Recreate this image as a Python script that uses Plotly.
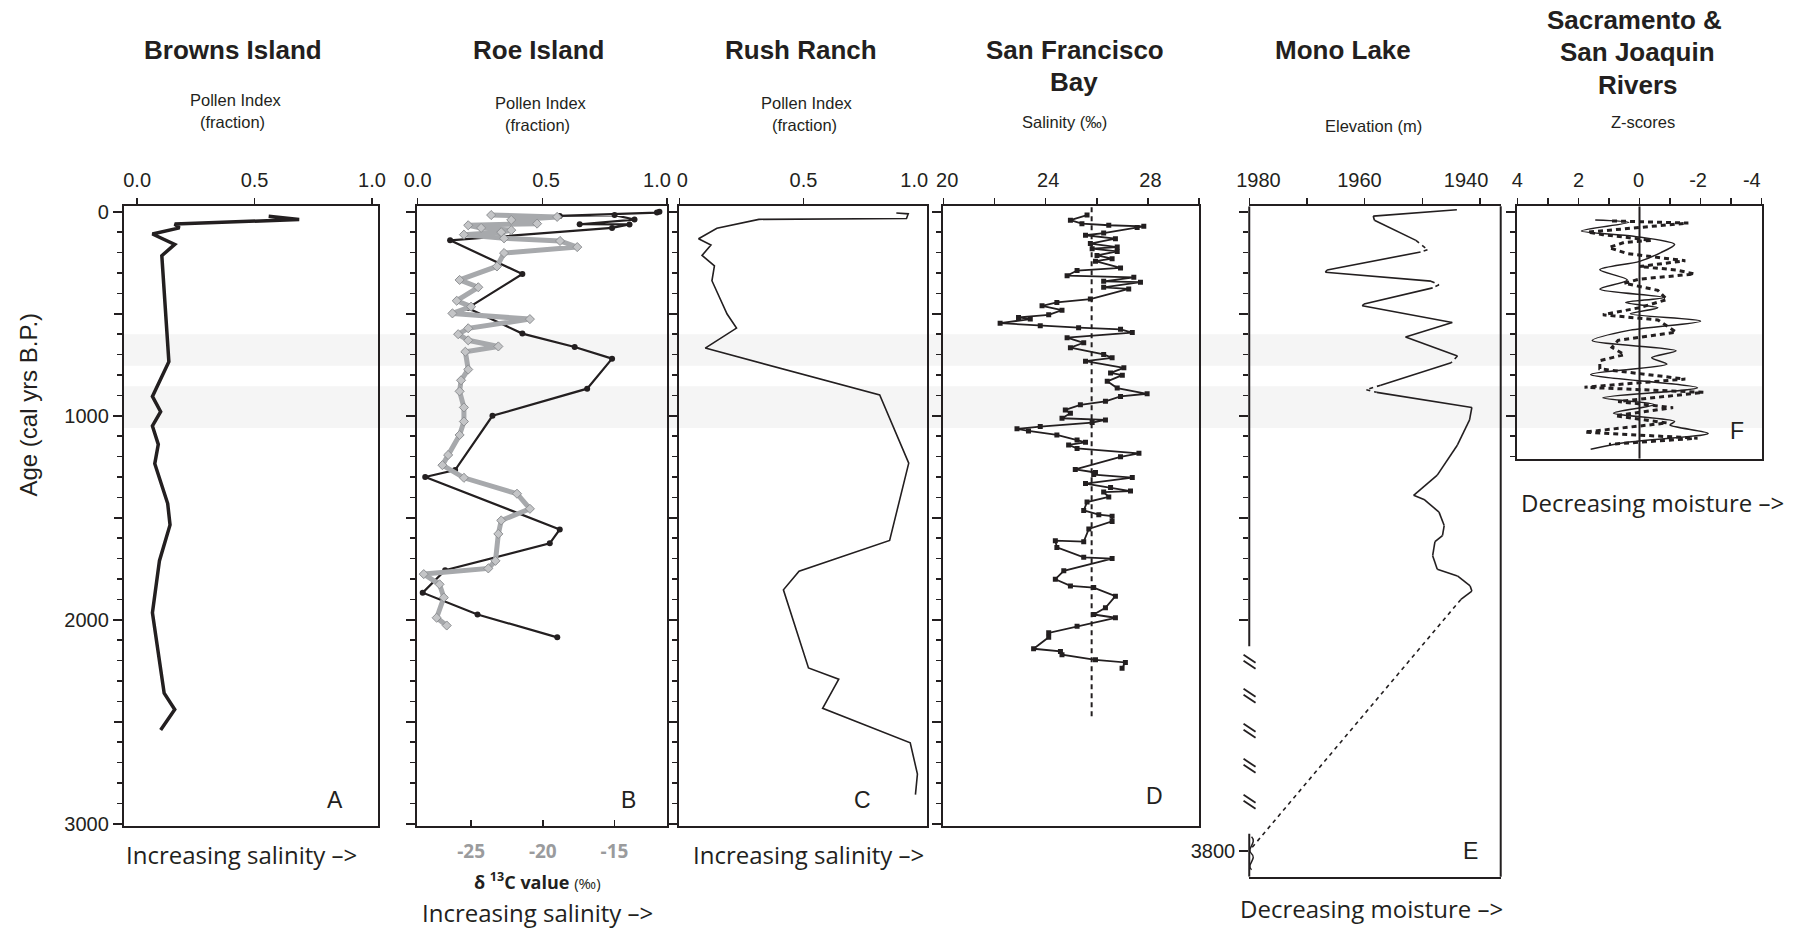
import plotly.graph_objects as go

W, H = 1798, 928
INK = '#231f20'
BAND = '#f5f5f5'
GREY = '#a7a9ac'
SANS = 'Liberation Sans, Arial, sans-serif'
HUM = 'Open Sans, Lato, sans-serif'

# ---------------- data ----------------
browns_age = [22, 38, 60, 79, 109, 160, 215, 735, 905, 980, 1050, 1140, 1235, 1430, 1535, 1710, 1965, 2360, 2440, 2540]
browns_idx = [0.56, 0.69, 0.16, 0.18, 0.065, 0.16, 0.105, 0.135, 0.065, 0.10, 0.065, 0.09, 0.075, 0.13, 0.14, 0.095, 0.065, 0.115, 0.16, 0.10]

roe_pollen_age = [0, 4, 20, 16, 38, 61, 62, 79, 140, 305, 472, 597, 663, 720, 867, 1000, 1266, 1300, 1557, 1625, 1757, 1867, 1974, 2086]
roe_pollen = [0.97, 0.96, 0.57, 0.79, 0.87, 0.65, 0.85, 0.78, 0.13, 0.42, 0.20, 0.42, 0.63, 0.78, 0.68, 0.30, 0.15, 0.03, 0.57, 0.53, 0.11, 0.02, 0.24, 0.56]

roe_d13c_age = [16, 25, 40, 58, 66, 79, 90, 100, 112, 130, 143, 173, 202, 268, 334, 370, 436, 465, 498, 526,
                571, 600, 630, 660, 686, 773, 826, 880, 959, 1028, 1094, 1192, 1242, 1304, 1382, 1456, 1513, 1579,
                1711, 1748, 1776, 1826, 1891, 1990, 2028]
roe_d13c = [-23.6, -19.0, -22.2, -20.4, -25.2, -24.3, -22.2, -22.9, -25.5, -22.7, -18.8, -17.6, -22.7, -23.2, -25.8,
            -24.5, -26.0, -25.0, -26.3, -20.9, -25.2, -25.9, -25.2, -23.1, -25.4, -25.2, -25.7, -25.8, -25.5, -25.5,
            -25.8, -26.6, -27.0, -25.5, -21.8, -20.9, -22.9, -23.1, -23.3, -23.8, -28.3, -27.2, -26.9, -27.4, -26.7]

rush_age = [6, 10, 33, 37, 81, 132, 163, 214, 265, 338, 501, 570, 668, 898, 1232, 1611, 1762, 1853, 2236, 2291, 2434, 2603, 2756, 2857]
rush_idx = [0.874, 0.922, 0.915, 0.320, 0.151, 0.077, 0.127, 0.091, 0.141, 0.131, 0.192, 0.230, 0.104, 0.807, 0.924,
            0.847, 0.482, 0.419, 0.520, 0.642, 0.577, 0.930, 0.959, 0.951]

sfb_age = [16, 41, 58, 66, 71, 77, 104, 115, 132, 156, 173, 181, 194, 214, 230, 242, 275, 288, 313, 321,
           341, 345, 370, 378, 428, 444, 461, 482, 505, 518, 526, 546, 559, 568, 576, 592, 617, 642, 666, 699,
           716, 732, 765, 790, 801, 831, 864, 892, 905, 929, 946, 971, 987, 1012, 1020, 1033, 1053, 1064, 1074, 1094,
           1119, 1130, 1143, 1160, 1184, 1201, 1263, 1278, 1288, 1303, 1332, 1352, 1369, 1374, 1398, 1423, 1464, 1485,
           1492, 1518, 1555, 1617, 1612, 1645, 1694, 1700, 1760, 1801, 1834, 1842, 1884, 1941, 1974, 1990, 2032, 2064,
           2086, 2142, 2155, 2171, 2196, 2209, 2237]
sfb_sal = [25.62, 24.97, 25.42, 26.47, 27.84, 27.58, 26.27, 25.56, 26.73, 25.75, 26.80, 25.82, 26.80, 26.01, 26.60,
           25.95, 26.93, 25.23, 24.84, 27.45, 26.27, 27.71, 26.27, 27.25, 25.75, 24.44, 23.86, 24.64, 24.12, 22.94,
           23.40, 22.22, 23.79, 25.29, 26.93, 27.39, 24.84, 25.49, 24.97, 26.27, 26.60, 25.56, 27.06, 26.54, 27.00,
           26.41, 26.80, 27.97, 26.93, 26.34, 25.36, 24.77, 24.97, 24.64, 26.34, 25.82, 23.79, 22.88, 23.33, 24.44,
           25.23, 25.56, 24.90, 25.23, 27.65, 26.93, 25.16, 25.95, 25.88, 27.39, 25.56, 26.54, 27.32, 26.27, 26.47,
           25.62, 25.49, 26.08, 26.60, 26.60, 25.69, 25.49, 24.38, 24.44, 25.49, 26.60, 24.71, 24.38, 24.97, 25.88,
           26.73, 26.34, 25.88, 26.73, 25.23, 24.12, 24.12, 23.53, 24.58, 24.64, 25.95, 27.12, 26.99]
sfb_mean_sal = 25.8
sfb_mean_span = [-22, 2490]

mono_age = [-10, 21, 41, 140, 186, 197, 285, 296, 340, 358, 373, 452, 461, 543, 614, 707, 740, 850, 872, 885,
            959, 1020, 1143, 1291, 1390, 1410, 1472, 1538, 1587, 1617, 1686, 1752, 1785, 1834, 1859, 1900, 3800]
mono_elev = [1944.0, 1958.5, 1958.3, 1951.1, 1949.1, 1950.3, 1966.5, 1966.8, 1948.5, 1947.1, 1948.2, 1960.1, 1960.4,
             1944.8, 1952.9, 1943.9, 1945.0, 1957.2, 1959.7, 1957.9, 1941.4, 1941.8, 1943.9, 1947.4, 1951.5, 1949.7,
             1947.1, 1946.2, 1946.5, 1947.8, 1948.2, 1947.4, 1943.9, 1941.7, 1941.4, 1943.3, 1980.0]
mono_uncertain = [(140, 197), (340, 373), (707, 740), (850, 885), (1900, 3800)]

sacsj_solid_age = [40, 52, 94, 120, 160, 200, 243, 284, 334, 379, 420, 445, 470, 500, 536, 580, 631, 681, 715, 747,
                   797, 863, 912, 945, 987, 1028, 1045, 1086, 1130, 1164]
sacsj_solid_z = [1.45, 0.35, 1.9, 0.2, -1.15, -0.7, 0.0, 1.3, 0.4, 1.3, -0.8, 0.45, -0.6, 0.3, -2.0, 0.3, 1.55, -1.2,
                 -0.4, -0.9, 1.6, -1.9, 1.2, -0.5, 0.85, -1.15, -1.0, -2.25, 0.4, 1.6]
sacsj_dot_age = [45, 55, 100, 112, 140, 150, 175, 205, 240, 268, 285, 305, 330, 350, 385, 430, 470, 505, 530, 590,
                 630, 665, 700, 730, 770, 820, 860, 885, 930, 960, 1000, 1035, 1080, 1110, 1140]
sacsj_dot_z = [0.9, -1.6, 1.7, 1.2, -0.4, 0.5, 1.0, 0.4, -1.5, 0.0, -1.2, -1.8, 0.0, 0.5, -0.6, -0.9, 0.0, 1.2, -0.6,
               -1.2, 0.7, 0.9, 0.5, 1.3, 1.3, -1.5, 1.8, -2.1, 0.7, -1.1, 0.8, -0.9, 1.8, -1.9, 1.0]

bands = [(600, 755), (855, 1060)]

# ---------------- layout geometry (target pixels, as in the reference) ----------------
AGE0_PX = 211.0
PX_PER_YR = 0.204

# small correction for the capture's scaling (measured by comparing renders with the reference)
FX, SX = 1075.0, 0.9877
FY, SY = 300.0, 0.986


def age_at(py):
    return (py - AGE0_PX) / PX_PER_YR


BOX = {  # left, right, top, bottom (target pixels)
    'A': (124.0, 377.5, 205.5, 825.5),
    'B': (416.7, 666.7, 205.5, 825.5),
    'C': (678.5, 926.5, 205.5, 825.5),
    'D': (943.0, 1198.5, 205.5, 825.0),
    'E': (1248.7, 1500.0, 205.5, 876.0),
    'F': (1516.7, 1760.7, 205.5, 458.0),
}


def px(x, y):
    xi = FX + (x - FX) / SX
    yi = FY + (y - FY) / SY
    return xi / W, 1 - yi / H


def xdom(k):
    l, r, t, b = BOX[k]
    return [px(l, 0)[0], px(r, 0)[0]]


def ydom(k):
    l, r, t, b = BOX[k]
    return [px(0, b)[1], px(0, t)[1]]


def yrng(k):
    l, r, t, b = BOX[k]
    return [age_at(b), age_at(t)]


BREAK_LO = 2150
DISPLAY_3800 = age_at(850)


def mono_display(a):
    return a if a <= BREAK_LO else a - 3800 + DISPLAY_3800


fig = go.Figure()

# ---------- traces ----------
fig.add_trace(go.Scatter(x=browns_idx, y=browns_age, xaxis='x', yaxis='y', mode='lines',
                         line=dict(color=INK, width=3.5)))

fig.add_trace(go.Scatter(x=roe_d13c, y=roe_d13c_age, xaxis='x7', yaxis='y2', mode='lines+markers',
                         line=dict(color=GREY, width=5),
                         marker=dict(symbol='diamond', size=7, color='#c4c5c7', line=dict(color='#8e9093', width=1))))
fig.add_trace(go.Scatter(x=roe_pollen, y=roe_pollen_age, xaxis='x2', yaxis='y2', mode='lines+markers',
                         line=dict(color=INK, width=2.2), marker=dict(symbol='circle', size=6, color=INK)))

fig.add_trace(go.Scatter(x=rush_idx, y=rush_age, xaxis='x3', yaxis='y3', mode='lines',
                         line=dict(color=INK, width=1.6)))

fig.add_trace(go.Scatter(x=[sfb_mean_sal, sfb_mean_sal], y=sfb_mean_span, xaxis='x4', yaxis='y4', mode='lines',
                         line=dict(color=INK, width=2, dash='5px,4px')))
fig.add_trace(go.Scatter(x=sfb_sal, y=sfb_age, xaxis='x4', yaxis='y4', mode='lines+markers',
                         line=dict(color=INK, width=1.8), marker=dict(symbol='square', size=5, color=INK)))


def in_unc(a0, a1):
    return any(lo <= a0 and a1 <= hi for lo, hi in mono_uncertain)


solid_x, solid_y, dash_x, dash_y = [], [], [], []
for i in range(len(mono_age) - 1):
    a0, a1 = mono_age[i], mono_age[i + 1]
    sx = [mono_elev[i], mono_elev[i + 1], None]
    sy = [mono_display(a0), mono_display(a1), None]
    if in_unc(a0, a1):
        dash_x += sx; dash_y += sy
    else:
        solid_x += sx; solid_y += sy
fig.add_trace(go.Scatter(x=solid_x, y=solid_y, xaxis='x5', yaxis='y5', mode='lines',
                         line=dict(color=INK, width=1.6)))
fig.add_trace(go.Scatter(x=dash_x, y=dash_y, xaxis='x5', yaxis='y5', mode='lines',
                         line=dict(color=INK, width=1.6, dash='4px,4px')))

fig.add_trace(go.Scatter(x=[0, 0], y=[yrng('F')[1], yrng('F')[0]], xaxis='x6', yaxis='y6', mode='lines',
                         line=dict(color=INK, width=2)))
fig.add_trace(go.Scatter(x=sacsj_dot_z, y=sacsj_dot_age, xaxis='x6', yaxis='y6', mode='lines',
                         line=dict(color=INK, width=3, dash='5px,4px')))
fig.add_trace(go.Scatter(x=sacsj_solid_z, y=sacsj_solid_age, xaxis='x6', yaxis='y6', mode='lines',
                         line=dict(color=INK, width=1.5, shape='spline', smoothing=0.8)))

# ---------- axes ----------
tickfont = dict(family=SANS, size=20, color=INK)
minor_age = [a for a in range(100, 3000, 100) if a % 500]


def xax(k, rng, tv, **kw):
    d = dict(domain=xdom(k), range=rng, side='top', showline=True, mirror=True, linecolor=INK, linewidth=2,
             ticks='outside', ticklen=6, tickwidth=1.5, tickcolor=INK, tickvals=tv, showticklabels=False,
             showgrid=False, zeroline=False, fixedrange=True)
    d.update(kw)
    return d


def xlab(base, anchor, rng, pos, text):
    # label-only companion axis (tick labels placed where the reference prints them)
    return dict(overlaying=base, anchor=anchor, side='top', range=rng, tickvals=pos, ticktext=text, ticks='',
                showline=False, showgrid=False, zeroline=False, tickfont=tickfont, ticklabelstandoff=14,
                fixedrange=True)


def yax(k, tv, minor_tv, **kw):
    d = dict(domain=ydom(k), range=yrng(k), showline=True, mirror=True, linecolor=INK, linewidth=2,
             ticks='outside', ticklen=9, tickwidth=2, tickcolor=INK, tickvals=tv, showticklabels=False,
             tickfont=tickfont,
             minor=dict(tickvals=minor_tv, ticks='outside', ticklen=5, tickwidth=1.5, tickcolor=INK),
             showgrid=False, zeroline=False, fixedrange=True)
    d.update(kw)
    return d


RA, RB, RC, RD, RE, RF = [-0.0567, 1.0235], [-0.004, 1.0], [-0.003, 0.997], [20, 30], [1980, 1936.4], [4, -4]

fig.update_layout(
    xaxis=xax('A', RA, [0, 0.5, 1], anchor='y'),
    yaxis=yax('A', [0, 1000, 2000, 3000], minor_age, anchor='x', showticklabels=True),
    yaxis7=dict(overlaying='y', anchor='x', side='left', range=yrng('A'), tickvals=[500, 1500, 2500],
                showticklabels=False, ticks='outside', ticklen=9, tickwidth=2, tickcolor=INK,
                showline=False, showgrid=False, zeroline=False, fixedrange=True),
    xaxis2=xax('B', RB, [0, 0.5, 1], anchor='y2'),
    yaxis2=yax('B', [0, 500, 1000, 1500, 2000, 2500, 3000], minor_age, anchor='x2'),
    xaxis3=xax('C', RC, [0, 0.5, 1], anchor='y3'),
    yaxis3=yax('C', [0, 500, 1000, 1500, 2000, 2500, 3000], minor_age, anchor='x3'),
    xaxis4=xax('D', RD, [20, 22, 24, 26, 28, 30], anchor='y4'),
    yaxis4=yax('D', [0, 500, 1000, 1500, 2000, 2500, 3000], minor_age, anchor='x4'),
    xaxis5=xax('E', RE, [1980, 1970, 1960, 1950, 1940], anchor='y5'),
    yaxis5=yax('E', [0, 500, 1000, 1500, 2000], [a for a in range(100, 2000, 100) if a % 500],
               showline=False, anchor='x5'),
    yaxis8=dict(overlaying='y5', anchor='x5', side='left', range=yrng('E'), tickvals=[DISPLAY_3800],
                ticktext=['3800'], ticks='outside', ticklen=9, tickwidth=2, tickcolor=INK, tickfont=tickfont,
                showline=False, showgrid=False, zeroline=False, fixedrange=True),
    xaxis6=xax('F', RF, [4, 3, 2, 1, 0, -1, -2, -3, -4], anchor='y6'),
    yaxis6=yax('F', [0, 500, 1000], [a for a in range(100, 1300, 100) if a % 500], anchor='x6'),
    xaxis7=dict(overlaying='x2', anchor='y2', side='bottom', range=[-28.79, -11.35], tickvals=[-25, -20, -15],
                ticktext=['-25', '-20', '-15'], ticks='inside', ticklen=6, tickwidth=1.5, tickcolor=INK,
                showline=False, showgrid=False, zeroline=False, ticklabelstandoff=12, fixedrange=True,
                tickfont=dict(family=HUM, size=19, color='#9a9b9d', weight='bold')),
    xaxis8=xlab('x', 'y', RA, [0, 0.5, 1.0], ['0.0', '0.5', '1.0']),
    xaxis9=xlab('x2', 'y2', RB, [0.0, 0.515, 0.96], ['0.0', '0.5', '1.0']),
    xaxis10=xlab('x3', 'y3', RC, [0.012, 0.5, 0.946], ['0', '0.5', '1.0']),
    xaxis11=xlab('x4', 'y4', RD, [20.15, 24.1, 28.1], ['20', '24', '28']),
    xaxis12=xlab('x5', 'y5', RE, [1978.4, 1960.9, 1942.4], ['1980', '1960', '1940']),
    xaxis13=xlab('x6', 'y6', RF, [4.0, 2.0, 0.03, -1.92, -3.68], ['4', '2', '0', '-2', '-4']),
)
for n, yref in [(8, 'y'), (9, 'y2'), (10, 'y3'), (11, 'y4'), (12, 'y5'), (13, 'y6')]:
    fig.add_trace(go.Scatter(x=[None], y=[None], xaxis=f'x{n}', yaxis=yref, mode='lines', hoverinfo='skip'))
fig.add_trace(go.Scatter(x=[None], y=[None], xaxis='x', yaxis='y7', mode='lines', hoverinfo='skip'))
fig.add_trace(go.Scatter(x=[None], y=[None], xaxis='x5', yaxis='y8', mode='lines', hoverinfo='skip'))

# ---------- shapes ----------
shapes = []
bx0, _ = px(124, 0)
bx1, _ = px(1761, 0)
for lo, hi in bands:
    shapes.append(dict(type='rect', xref='paper', yref='y', x0=bx0, x1=bx1, y0=lo, y1=hi,
                       fillcolor=BAND, line=dict(width=0), layer='below'))
shapes.append(dict(type='line', xref='x5 domain', yref='y5', x0=0, x1=0, y0=yrng('E')[1], y1=2130,
                   line=dict(color=INK, width=2)))
shapes.append(dict(type='line', xref='x5 domain', yref='y5', x0=0, x1=0, y0=age_at(833), y1=yrng('E')[0],
                   line=dict(color=INK, width=2)))
shapes.append(dict(type='line', xref='x5 domain', yref='y5 domain', x0=1, x1=1, y0=0, y1=1,
                   line=dict(color=INK, width=2)))
for yb in [663, 697, 732, 767, 803]:
    for k in (0, 1):
        x0, y0 = px(1243, yb - 9 + 6 * k)
        x1, y1 = px(1255, yb - 1 + 6 * k)
        shapes.append(dict(type='line', xref='paper', yref='paper', x0=x0, y0=y0, x1=x1, y1=y1,
                           line=dict(color=INK, width=1.8)))


def ppath(points):
    sx, sy = px(*points[0])
    s = f'M {sx:.5f},{sy:.5f}'
    rest = points[1:]
    for i in range(0, len(rest), 3):
        c = [px(*p) for p in rest[i:i + 3]]
        s += ' C ' + ' '.join(f'{a:.5f},{b:.5f}' for a, b in c)
    return s


shapes.append(dict(type='path', xref='paper', yref='paper',
                   path=ppath([(1251, 836), (1257, 842), (1245, 848), (1251, 853),
                               (1257, 858), (1245, 864), (1251, 869)]),
                   line=dict(color=INK, width=1.5)))
fig.update_layout(shapes=shapes)

# ---------- annotations ----------
anns = []


def ann(text, x, y, size, family=SANS, color=INK, angle=0):
    ax, ay = px(x, y)
    anns.append(dict(text=text, x=ax, y=ay, xref='paper', yref='paper', showarrow=False, xanchor='center',
                     yanchor='middle', textangle=angle, font=dict(family=family, size=size, color=color)))


T = 26
ann('<b>Browns Island</b>', 233, 49, T)
ann('<b>Roe Island</b>', 538, 49, T)
ann('<b>Rush Ranch</b>', 801, 49, T)
ann('<b>San Francisco</b>', 1075, 49, T)
ann('<b>Bay</b>', 1074, 81, T)
ann('<b>Mono Lake</b>', 1342, 49, T)
ann('<b>Sacramento &amp;</b>', 1634, 19, T)
ann('<b>San Joaquin</b>', 1637, 51, T)
ann('<b>Rivers</b>', 1637, 84, T)

S = 16.5
ann('Pollen Index', 236, 99, S)
ann('(fraction)', 233, 121, S)
ann('Pollen Index', 541, 102, S)
ann('(fraction)', 537, 124, S)
ann('Pollen Index', 807, 102, S)
ann('(fraction)', 804, 124, S)
ann('Salinity (‰)', 1064, 121, S)
ann('Elevation (m)', 1373, 125, S)
ann('Z-scores', 1642, 121, S)

ann('Age (cal yrs B.P.)', 29, 404, 24, angle=-90)

L = 23
ann('A', 335, 799, L)
ann('B', 628, 799, L)
ann('C', 862, 799, L)
ann('D', 1154, 795, L)
ann('E', 1470, 850, L)
ann('F', 1736, 430, L)

M = 24
ann('Increasing salinity –>', 242, 854, M, family=HUM)
ann('Increasing salinity –>', 808, 854, M, family=HUM)
ann('Increasing salinity –>', 537, 912, M, family=HUM)
ann('Decreasing moisture –>', 1371, 908, M, family=HUM)
ann('Decreasing moisture –>', 1652, 502, M, family=HUM)
ann('<b>δ <sup>13</sup>C value</b> <span style="font-size:15px">(‰)</span>', 537, 880, 18, family=HUM)

fig.update_layout(annotations=anns)

fig.update_layout(width=W, height=H, autosize=False, margin=dict(l=0, r=0, t=0, b=0),
                  paper_bgcolor='white', plot_bgcolor='rgba(0,0,0,0)', showlegend=False)

POST = ("var d=document.getElementById('{plot_id}');"
        "d.style.position='fixed';d.style.left='0px';d.style.top='0px';"
        "document.body.style.margin='0';document.body.style.overflow='hidden';"
        "document.documentElement.style.overflow='hidden';")
fig.write_html('out.html', config={'displayModeBar': False, 'staticPlot': True}, post_script=POST)
